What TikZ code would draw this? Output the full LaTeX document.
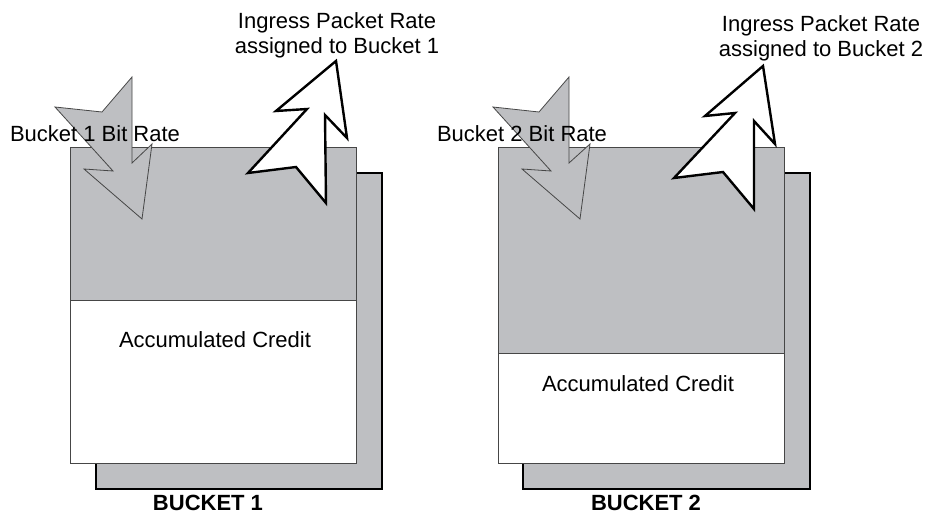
\documentclass[tikz,border=0pt]{standalone}
\usepackage{fontspec}
\setmainfont{Liberation Sans}
\definecolor{bucketgray}{RGB}{190,191,194}
\definecolor{edgegray}{RGB}{70,70,70}
\begin{document}
\begin{tikzpicture}[x=1pt,y=-1pt,
  backbox/.style={fill=bucketgray,draw=black,line width=2.4pt},
  fronttop/.style={fill=bucketgray},
  frontbottom/.style={fill=white},
  frontedge/.style={draw=edgegray,line width=0.9pt},
  grayarrow/.style={fill=bucketgray,draw=edgegray,line width=0.8pt,line join=miter},
  whitearrow/.style={fill=white,draw=black,line width=2.4pt,line join=miter},
  lbl/.style={font=\fontsize{22}{25}\selectfont,align=center,inner sep=0pt},
  biglbl/.style={font=\fontsize{22}{25}\selectfont\bfseries,inner sep=0pt}]
\useasboundingbox (0,0) rectangle (932,514);
% ---------- Bucket 1 ----------
\draw[backbox] (96,173) rectangle (382,489);
\fill[fronttop] (70,147) rectangle (356,300);
\fill[frontbottom] (70,300) rectangle (356,463);
\draw[frontedge] (70,147) rectangle (356,463);
\draw[frontedge] (70,300) -- (356,300);
\draw[grayarrow] (132,77) -- (132,163) -- (152,144) -- (142,219) -- (84,169)
  -- (113,171) -- (55,107) -- (102,112) -- cycle;
\draw[whitearrow] (336,61) -- (347,138) -- (325,115) -- (326,203) -- (296,167)
  -- (248,173) -- (307,109) -- (276,111) -- cycle;
\node[lbl] (bitrate1) at (95,134) {Bucket 1 Bit Rate};
\node[lbl] (ingress1) at (337,35) {Ingress Packet Rate\\assigned to Bucket 1};
\node[lbl] (credit1) at (215,340) {Accumulated Credit};
\node[biglbl] (bucket1) at (208,503) {BUCKET 1};
% ---------- Bucket 2 ----------
\draw[backbox] (523,173) rectangle (810,489);
\fill[fronttop] (498,147) rectangle (784,353);
\fill[frontbottom] (498,353) rectangle (784,463);
\draw[frontedge] (498,147) rectangle (784,463);
\draw[frontedge] (498,353) -- (784,353);
\draw[grayarrow] (569,77) -- (569,163) -- (590,144) -- (580,219) -- (522,169)
  -- (551,171) -- (493,107) -- (539,112) -- cycle;
\draw[whitearrow] (763,66) -- (775,144) -- (754,121) -- (754,209) -- (723,172)
  -- (674,178) -- (735,113) -- (705,116) -- cycle;
\node[lbl] (bitrate2) at (522,134) {Bucket 2 Bit Rate};
\node[lbl] (ingress2) at (821,38) {Ingress Packet Rate\\assigned to Bucket 2};
\node[lbl] (credit2) at (638,384) {Accumulated Credit};
\node[biglbl] (bucket2) at (646,503) {BUCKET 2};
\end{tikzpicture}
\end{document}
